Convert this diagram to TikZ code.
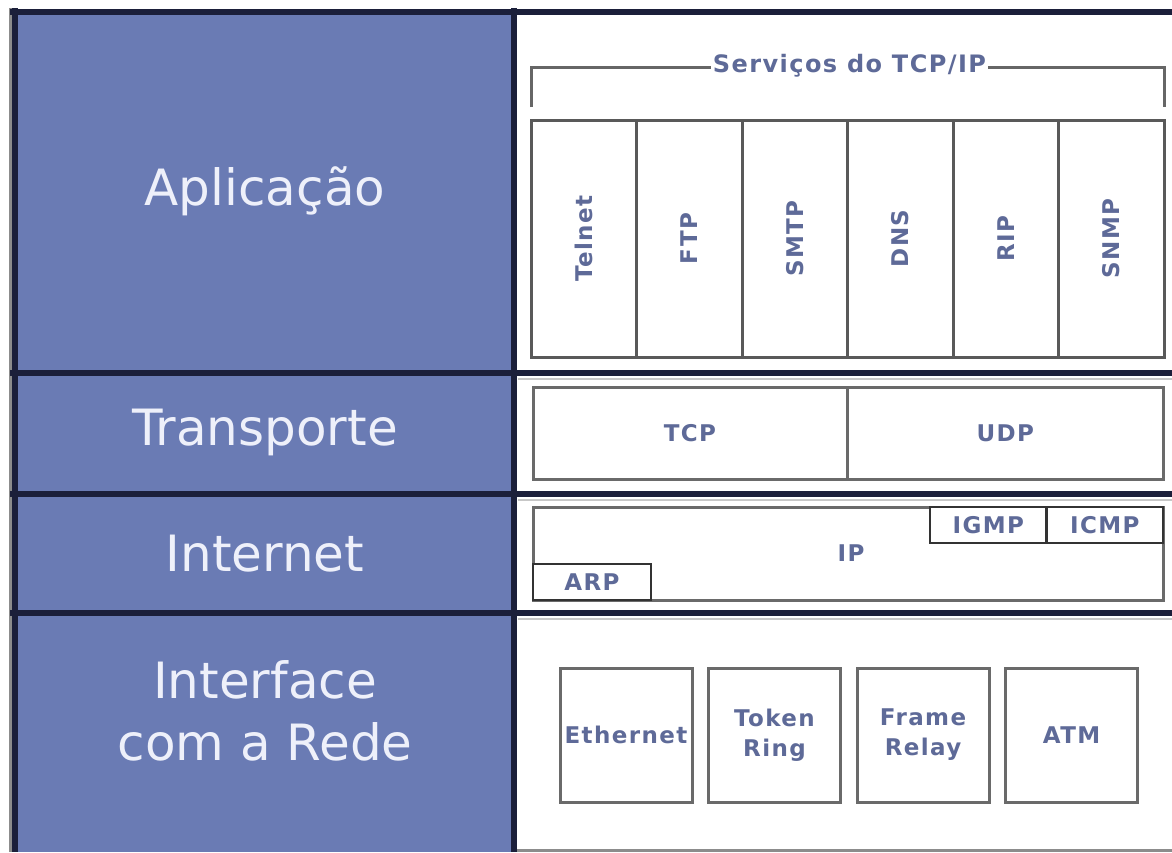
\documentclass[tikz,border=0pt]{standalone}
\usepackage{fontspec}
\setmainfont{DejaVu Sans}
\newfontfamily\lblfont[LetterSpace=6]{DejaVu Sans}
\usetikzlibrary{positioning}
\definecolor{layerblue}{HTML}{6A7BB4}
\definecolor{navyline}{HTML}{1B1F3A}
\definecolor{labeltxt}{HTML}{5E6A98}
\definecolor{boxline}{HTML}{6A6A6A}
\definecolor{darkbox}{HTML}{333333}
\definecolor{whitetxt}{HTML}{EEF0FA}
\tikzset{
  layercell/.style={fill=layerblue, draw=none, inner sep=0pt},
  layertext/.style={text=whitetxt, font=\fontsize{50}{62}\selectfont, align=center, inner sep=0pt},
  sep/.style={draw=navyline, line width=6pt},
  shade/.style={draw=black!22, line width=2pt},
  gbox/.style={draw=boxline, line width=3pt, fill=white, inner sep=0pt,
    text=labeltxt, font=\lblfont\bfseries\fontsize{23}{30}\selectfont, align=center},
  dbox/.style={gbox, draw=darkbox, line width=2.5pt},
  svcbox/.style={gbox, draw=black!65, rotate=90, minimum width=237pt, minimum height=105.5pt},
  ifbox/.style={gbox, minimum width=132pt, minimum height=134pt},
}
\begin{document}
\begin{tikzpicture}[x=1pt,y=-1pt]
\useasboundingbox (0,0) rectangle (1172,852);
\fill[white] (0,0) rectangle (1172,852);
% left blue cells
\node[layercell, minimum width=500pt, minimum height=361pt] (appcell) at (264,192.5) {};
\node[layercell, minimum width=500pt, minimum height=121pt] (transcell) at (264,433.5) {};
\node[layercell, minimum width=500pt, minimum height=119pt] (inetcell) at (264,553.5) {};
\node[layercell, minimum width=500pt, minimum height=240pt] (ifacecell) at (264,732) {};
\node[layertext] (app) at (265,191) {Aplicação};
\node[layertext] (trans) at (265,432) {Transporte};
\node[layertext] (inet) at (265,554) {Internet};
\node[layertext] (iface) at (265,711) {Interface\\com a Rede};
% frame lines
\draw[shade] (518,379) -- (1172,379);
\draw[shade] (518,499.5) -- (1172,499.5);
\draw[shade] (518,618.5) -- (1172,618.5);
\draw[draw=black!45, line width=3pt] (10.5,8) -- (10.5,852);
\draw[draw=black!45, line width=3pt] (514,850.5) -- (1172,850.5);
\draw[sep] (10,11.5) -- (1172,11.5);
\draw[sep] (10,373) -- (1172,373);
\draw[sep] (10,494) -- (1172,494);
\draw[sep] (10,613) -- (1172,613);
\draw[sep] (15,8) -- (15,852);
\draw[sep] (514,8) -- (514,852);
% services bracket
\coordinate (bl) at (531,107);
\coordinate (br) at (1164,107);
\draw[draw=black!60, line width=3pt] (bl) -- (bl |- 0,67) -- (br |- 0,67) -- (br);
\node[fill=white, inner sep=2pt, text=labeltxt, font=\lblfont\bfseries\fontsize{24}{28}\selectfont] (svcs) at (849.5,66) {Serviços do TCP/IP};
% service columns
\node[svcbox] (telnet) at (583.75,238.5) {Telnet};
\node[svcbox] (ftp) at (689.25,238.5) {FTP};
\node[svcbox] (smtp) at (794.75,238.5) {SMTP};
\node[svcbox] (dns) at (900.25,238.5) {DNS};
\node[svcbox] (rip) at (1005.75,238.5) {RIP};
\node[svcbox] (snmp) at (1111.25,238.5) {SNMP};
% transport
\node[gbox, minimum width=314pt, minimum height=92pt] (tcp) at (690,433) {TCP};
\node[gbox, minimum width=316.5pt, minimum height=92pt] (udp) at (1005.25,433) {UDP};
% internet
\node[gbox, minimum width=630pt, minimum height=93pt] (ip) at (848,553.5) {};
\node[gbox, draw=none, fill=none] (iptext) at (851,553) {IP};
\node[dbox, minimum width=116.5pt, minimum height=36pt] (igmp) at (988.25,525) {IGMP};
\node[dbox, minimum width=116.5pt, minimum height=36pt] (icmp) at (1104.75,525) {ICMP};
\node[dbox, minimum width=118pt, minimum height=36pt] (arp) at (592,582) {ARP};
% network interface
\node[ifbox] (eth) at (626,735) {Ethernet};
\node[ifbox] (token) at (774.5,735) {Token\\Ring};
\node[ifbox] (frame) at (923,735) {Frame\\Relay};
\node[ifbox] (atm) at (1071.5,735) {ATM};
\end{tikzpicture}
\end{document}
